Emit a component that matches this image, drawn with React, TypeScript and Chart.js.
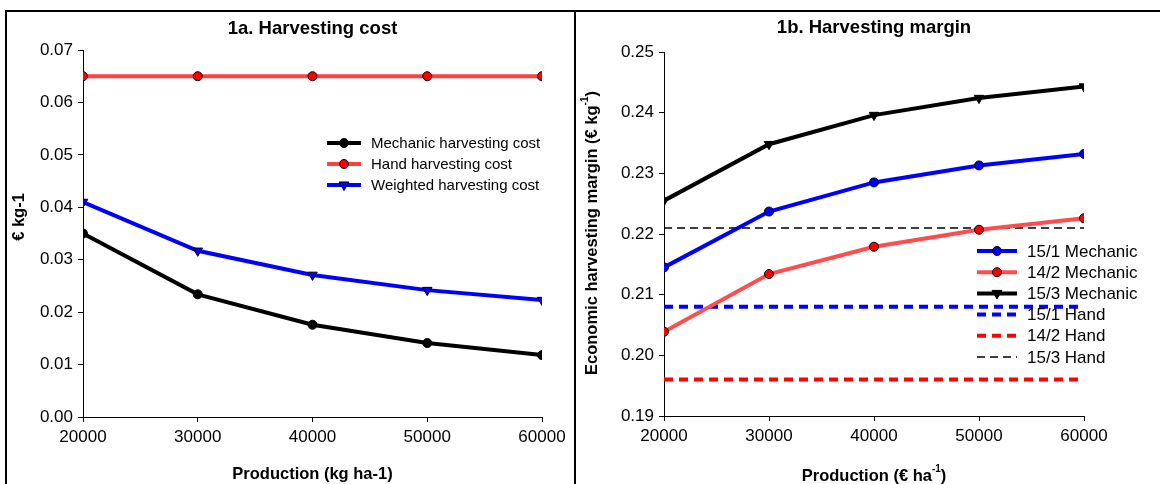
import React, { useEffect, useRef } from "react";
import { Chart, registerables } from "chart.js";

Chart.register(...registerables);

const FONT = "'Liberation Sans', Arial, sans-serif";

// ---- data ----
const PRODUCTION = [20000, 30000, 40000, 50000, 60000];
const MECHANIC_COST = [0.035, 0.0234, 0.0176, 0.0141, 0.0118];
const HAND_COST = [0.065, 0.065, 0.065, 0.065, 0.065];
const WEIGHTED_COST = [0.041, 0.0317, 0.0271, 0.0242, 0.0223];

const MECH_15_1 = [0.2145, 0.2237, 0.2285, 0.2313, 0.2332];
const MECH_14_2 = [0.2039, 0.2134, 0.2179, 0.2207, 0.2226];
const MECH_15_3 = [0.2255, 0.2348, 0.2396, 0.2424, 0.2443];
const HAND_15_1 = [0.208, 0.208, 0.208, 0.208, 0.208];
const HAND_14_2 = [0.196, 0.196, 0.196, 0.196, 0.196];
const HAND_15_3 = [0.221, 0.221, 0.221, 0.221, 0.221];

const LEFT_Y_TICKS = [0, 0.01, 0.02, 0.03, 0.04, 0.05, 0.06, 0.07];
const RIGHT_Y_TICKS = [0.19, 0.2, 0.21, 0.22, 0.23, 0.24, 0.25];

const pts = (ys: number[]) => PRODUCTION.map((x, i) => ({ x, y: ys[i] }));

type Seg = { t: string; sup?: boolean };

function segWidth(ctx: CanvasRenderingContext2D, segs: Seg[], size: number) {
  let w = 0;
  for (const s of segs) {
    ctx.font = `bold ${s.sup ? Math.round(size * 0.62) : size}px ${FONT}`;
    w += ctx.measureText(s.t).width;
  }
  return w;
}

function drawRich(ctx: CanvasRenderingContext2D, segs: Seg[], cx: number, cy: number, size: number) {
  const total = segWidth(ctx, segs, size);
  let x = cx - total / 2;
  ctx.textBaseline = "middle";
  ctx.textAlign = "left";
  ctx.fillStyle = "#000";
  for (const s of segs) {
    ctx.font = `bold ${s.sup ? Math.round(size * 0.62) : size}px ${FONT}`;
    ctx.fillText(s.t, x, s.sup ? cy - size * 0.38 : cy);
    x += ctx.measureText(s.t).width;
  }
}

function drawMarker(ctx: CanvasRenderingContext2D, style: string, x: number, y: number, r: number, fill: string, stroke: string) {
  ctx.save();
  ctx.setLineDash([]);
  ctx.fillStyle = fill;
  ctx.strokeStyle = stroke;
  ctx.lineWidth = 1;
  ctx.beginPath();
  if (style === "circle") {
    ctx.arc(x, y, r, 0, Math.PI * 2);
  } else {
    ctx.moveTo(x, y + r);
    ctx.lineTo(x - r * 0.9, y - r * 0.55);
    ctx.lineTo(x + r * 0.9, y - r * 0.55);
    ctx.closePath();
  }
  ctx.fill();
  ctx.stroke();
  ctx.restore();
}

const decorPlugin = {
  id: "decor",
  afterDraw(chart: any, _args: any, opts: any) {
    const ctx: CanvasRenderingContext2D = chart.ctx;
    const area = chart.chartArea;
    const cx = (area.left + area.right) / 2;
    ctx.save();
    // title
    drawRich(ctx, [{ t: opts.title }], cx, opts.titleY, opts.titleSize);
    // x title
    drawRich(ctx, opts.xTitle, cx, opts.xTitleY, opts.axisTitleSize);
    // y title
    ctx.save();
    ctx.translate(opts.yTitleX, opts.yTitleY);
    ctx.rotate(-Math.PI / 2);
    drawRich(ctx, opts.yTitle, 0, 0, opts.axisTitleSize);
    ctx.restore();
    // legend
    const lg = opts.legend;
    chart.data.datasets.forEach((ds: any, i: number) => {
      const y = lg.y + i * lg.rowH;
      ctx.save();
      ctx.strokeStyle = ds.borderColor;
      ctx.lineWidth = ds.borderWidth;
      ctx.setLineDash(ds.borderDash || []);
      ctx.beginPath();
      ctx.moveTo(lg.x0, y);
      ctx.lineTo(lg.x1, y);
      ctx.stroke();
      ctx.restore();
      if (ds.pointRadius > 0) {
        drawMarker(ctx, ds.pointStyle, (lg.x0 + lg.x1) / 2, y, ds.pointRadius, ds.pointBackgroundColor, ds.pointBorderColor);
      }
      ctx.font = `${lg.size}px ${FONT}`;
      ctx.fillStyle = "#000";
      ctx.textAlign = "left";
      ctx.textBaseline = "middle";
      ctx.fillText(ds.label, lg.textX, y + 1);
    });
    ctx.restore();
  },
};

function lineDs(label: string, ys: number[], color: string, width: number, marker: string | null, markerFill: string, dash?: number[]) {
  return {
    label,
    data: pts(ys),
    borderColor: color,
    backgroundColor: color,
    borderWidth: width,
    borderDash: dash || [],
    pointStyle: marker || "circle",
    pointRadius: marker ? (marker === "circle" ? 4.5 : 5.5) : 0,
    pointRotation: marker === "triangle" ? 180 : 0,
    pointBackgroundColor: markerFill,
    pointBorderColor: "#000",
    pointBorderWidth: 1,
    tension: 0,
    fill: false,
  };
}

function makeOptions(p: {
  yMin: number; yMax: number; yTicks: number[]; yWidth: number; xHeight: number; padTop: number; padRight: number; decor: any;
}) {
  return {
    responsive: false,
    animation: false,
    layout: { padding: { top: p.padTop, right: p.padRight, left: 0, bottom: 0 } },
    plugins: { legend: { display: false }, tooltip: { enabled: false }, title: { display: false }, decor: p.decor },
    scales: {
      x: {
        type: "linear",
        min: 20000,
        max: 60000,
        afterBuildTicks: (s: any) => { s.ticks = PRODUCTION.map((v) => ({ value: v })); },
        afterFit: (s: any) => { s.height = p.xHeight; },
        ticks: { color: "#000", font: { size: 17, family: FONT }, padding: 5, maxRotation: 0, callback: (v: any) => String(v) },
        grid: { display: true, drawOnChartArea: false, drawTicks: true, tickLength: 5, color: "#000", lineWidth: 1 },
        border: { display: true, color: "#000", width: 1 },
      },
      y: {
        type: "linear",
        min: p.yMin,
        max: p.yMax,
        afterBuildTicks: (s: any) => { s.ticks = p.yTicks.map((v) => ({ value: v })); },
        afterFit: (s: any) => { s.width = p.yWidth; },
        ticks: { color: "#000", font: { size: 17, family: FONT }, padding: 5, callback: (v: any) => Number(v).toFixed(2) },
        grid: { display: true, drawOnChartArea: false, drawTicks: true, tickLength: 5, color: "#000", lineWidth: 1 },
        border: { display: true, color: "#000", width: 1 },
      },
    },
  };
}

export default function App() {
  const leftRef = useRef<HTMLCanvasElement>(null);
  const rightRef = useRef<HTMLCanvasElement>(null);

  useEffect(() => {
    const left = new Chart(leftRef.current as HTMLCanvasElement, {
      type: "line",
      data: {
        datasets: [
          lineDs("Mechanic harvesting cost", MECHANIC_COST, "#000000", 4, "circle", "#000000"),
          lineDs("Hand harvesting cost", HAND_COST, "#ff4040", 4, "circle", "#ff0000"),
          lineDs("Weighted harvesting cost", WEIGHTED_COST, "#0000ff", 4, "triangle", "#0000ff"),
        ],
      } as any,
      options: makeOptions({
        yMin: 0, yMax: 0.07, yTicks: LEFT_Y_TICKS, yWidth: 76, xHeight: 67, padTop: 38, padRight: 32,
        decor: {
          title: "1a. Harvesting cost", titleY: 17, titleSize: 18.5,
          xTitle: [{ t: "Production (kg ha-1)" }], xTitleY: 462,
          yTitle: [{ t: "€ kg-1" }], yTitleX: 12, yTitleY: 205,
          axisTitleSize: 16.5,
          legend: { x0: 320, x1: 354, textX: 364, y: 131, rowH: 21, size: 15 },
        },
      }) as any,
      plugins: [decorPlugin],
    });

    const right = new Chart(rightRef.current as HTMLCanvasElement, {
      type: "line",
      data: {
        datasets: [
          lineDs("15/1 Mechanic", MECH_15_1, "#0000ff", 4, "circle", "#0000ff"),
          lineDs("14/2 Mechanic", MECH_14_2, "#ff4d4d", 4, "circle", "#ff0000"),
          lineDs("15/3 Mechanic", MECH_15_3, "#000000", 4, "triangle", "#000000"),
          lineDs("15/1 Hand", HAND_15_1, "#0000ff", 4, null, "#0000ff", [9, 6]),
          lineDs("14/2 Hand", HAND_14_2, "#ff0000", 4, null, "#ff0000", [9, 6]),
          lineDs("15/3 Hand", HAND_15_3, "#000000", 1.5, null, "#000000", [8, 5]),
        ],
      } as any,
      options: makeOptions({
        yMin: 0.19, yMax: 0.25, yTicks: RIGHT_Y_TICKS, yWidth: 88, xHeight: 68, padTop: 40, padRight: 76,
        decor: {
          title: "1b. Harvesting margin", titleY: 16, titleSize: 18.5,
          xTitle: [{ t: "Production (€ ha" }, { t: "-1", sup: true }, { t: ")" }], xTitleY: 464,
          yTitle: [{ t: "Economic harvesting margin (€ kg" }, { t: "-1", sup: true }, { t: ")" }], yTitleX: 16, yTitleY: 221,
          axisTitleSize: 16.5,
          legend: { x0: 401, x1: 441, textX: 451, y: 239, rowH: 21.2, size: 17 },
        },
      }) as any,
      plugins: [decorPlugin],
    });

    return () => {
      left.destroy();
      right.destroy();
    };
  }, []);

  return (
    <div style={{ position: "absolute", left: 0, top: 0, width: 1160, height: 484, overflow: "hidden", background: "#fff" }}>
      <div style={{ position: "absolute", left: 5, top: 10, width: 567, height: 480, border: "2px solid #000", background: "#fff" }}>
        <canvas ref={leftRef} width={567} height={472} style={{ display: "block" }} />
      </div>
      <div style={{ position: "absolute", left: 576, top: 10, width: 584, height: 480, borderTop: "2px solid #000", background: "#fff" }}>
        <canvas ref={rightRef} width={584} height={472} style={{ display: "block" }} />
      </div>
    </div>
  );
}
